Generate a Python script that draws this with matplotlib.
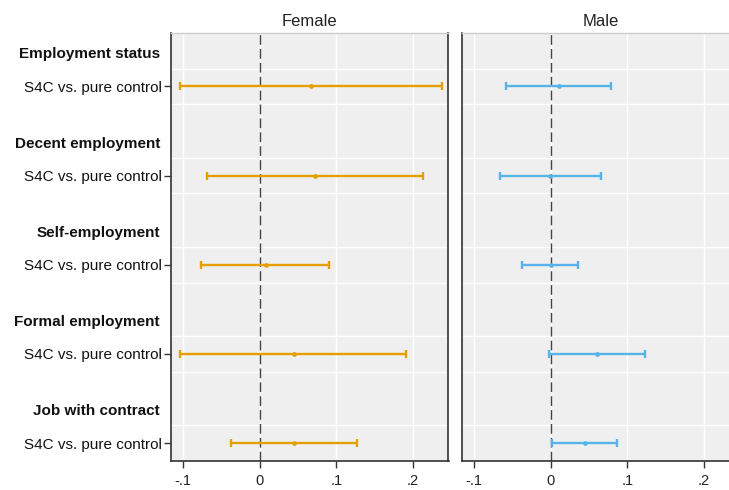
import matplotlib
matplotlib.use("Agg")
import matplotlib.pyplot as plt

plt.rcParams['font.family'] = ['Liberation Sans', 'DejaVu Sans']

outcomes = ["Employment status", "Decent employment", "Self-employment",
            "Formal employment", "Job with contract"]
row_label = "S4C vs. pure control"
panels = ["Female", "Male"]

female_est = [0.0665, 0.0720, 0.0078, 0.0443, 0.0443]
female_lo = [-0.1035, -0.0691, -0.0762, -0.1035, -0.0378]
female_hi = [0.2373, 0.2125, 0.0907, 0.1907, 0.1264]

male_est = [0.0105, -0.0005, 0.0000, 0.0600, 0.0448]
male_lo = [-0.0580, -0.0658, -0.0379, -0.0026, 0.0013]
male_hi = [0.0784, 0.0654, 0.0353, 0.1225, 0.0870]

xtick_vals = [-0.1, 0.0, 0.1, 0.2]
xtick_labels = ["-.1", "0", ".1", ".2"]

colors = ["#E69F00", "#56B4E9"]

W, H = 729, 490
fig = plt.figure(figsize=(W / 100, H / 100), dpi=100)

pw = 277.5
ax_f = fig.add_axes([171 / W, (H - 461) / H, pw / W, 428 / H])
ax_m = fig.add_axes([462 / W, (H - 461) / H, pw / W, 428 / H])

header_pos = [2.5 * k for k in range(len(outcomes))]
item_pos = [2.5 * k + 1 for k in range(len(outcomes))]
grid_pos = []
for k in range(len(outcomes)):
    grid_pos += [2.5 * k + 0.5, 2.5 * k + 1.5]

data = [(female_est, female_lo, female_hi), (male_est, male_lo, male_hi)]

for i, (ax, title) in enumerate(zip([ax_f, ax_m], panels)):
    est, lo, hi = data[i]
    ax.set_facecolor("#efefef")
    ax.set_xlim(-0.1158, 0.2462)
    ax.set_ylim(11.5, -0.5)
    for g in grid_pos:
        ax.axhline(g, color="white", lw=1.0, zorder=1)
    for xv in xtick_vals:
        ax.axvline(xv, color="white", lw=1.0, zorder=1)
    ax.axvline(0, color="#444444", lw=1.0, linestyle=(0, (7, 3)), zorder=2)
    xerr = [[e - l for e, l in zip(est, lo)], [h - e for e, h in zip(est, hi)]]
    ax.errorbar(est, item_pos, xerr=xerr, fmt="o", color=colors[i],
                ecolor=colors[i], elinewidth=1.7, capsize=3.0, capthick=1.7,
                markersize=2.4, zorder=3)
    ax.set_xticks(xtick_vals)
    ax.set_xticklabels(xtick_labels, fontsize=10.5, color="#222222")
    ax.tick_params(axis="x", length=5, width=1, color="#333333", pad=4)
    ax.set_title(title, fontsize=12, color="#222222", pad=5)
    for s in ["left", "bottom", "right"]:
        ax.spines[s].set_color("#333333")
        ax.spines[s].set_linewidth(1.2)
    ax.spines["top"].set_color("#cccccc")
    ax.spines["top"].set_linewidth(1.0)

ax_f.set_yticks(item_pos)
ax_f.set_yticklabels([row_label] * len(outcomes), fontsize=11, color="#111111")
ax_f.tick_params(axis="y", length=5, width=1, color="#333333", pad=1.5)
for hp, name in zip(header_pos, outcomes):
    ax_f.text(-0.04, hp + 0.06, name, transform=ax_f.get_yaxis_transform(),
              ha="right", va="center_baseline", fontsize=11, fontweight="bold",
              color="#111111")

ax_m.set_yticks([])

fig.savefig("out.png", dpi=100)
